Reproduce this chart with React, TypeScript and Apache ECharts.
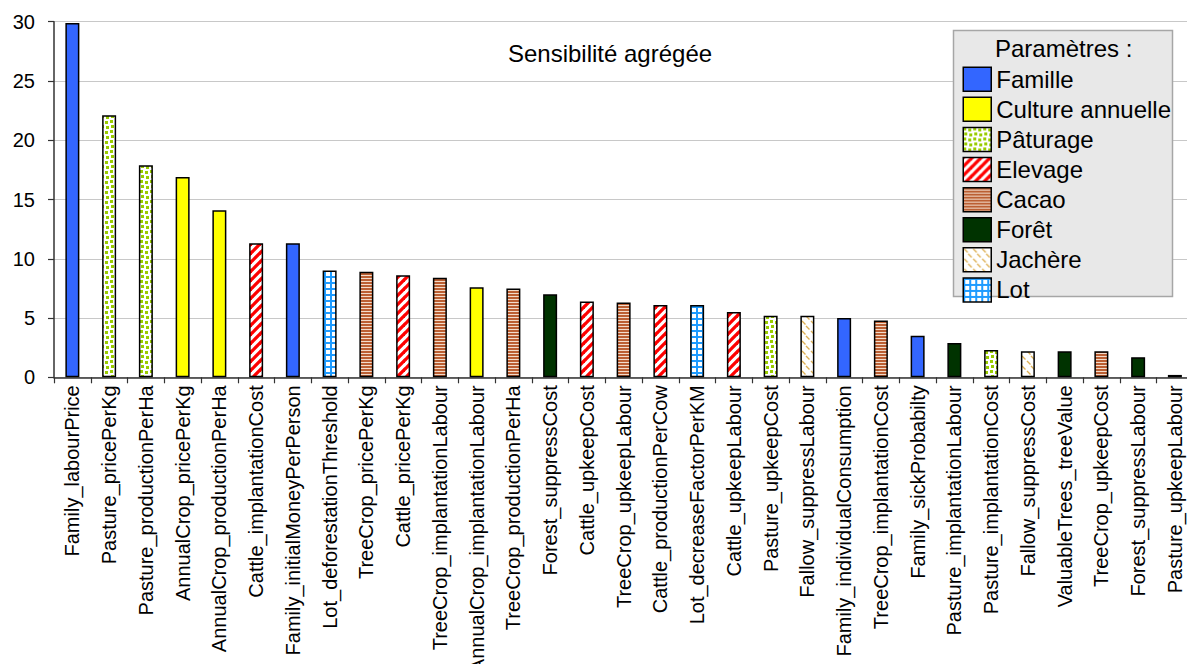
import React, { useEffect, useRef } from 'react';
import * as echarts from 'echarts';

const categories = [
  'Family_labourPrice', 'Pasture_pricePerKg', 'Pasture_productionPerHa', 'AnnualCrop_pricePerKg',
  'AnnualCrop_productionPerHa', 'Cattle_implantationCost', 'Family_initialMoneyPerPerson',
  'Lot_deforestationThreshold', 'TreeCrop_pricePerKg', 'Cattle_pricePerKg', 'TreeCrop_implantationLabour',
  'AnnualCrop_implantationLabour', 'TreeCrop_productionPerHa', 'Forest_suppressCost', 'Cattle_upkeepCost',
  'TreeCrop_upkeepLabour', 'Cattle_productionPerCow', 'Lot_decreaseFactorPerKM', 'Cattle_upkeepLabour',
  'Pasture_upkeepCost', 'Fallow_suppressLabour', 'Family_individualConsumption', 'TreeCrop_implantationCost',
  'Family_sickProbabilty', 'Pasture_implantationLabour', 'Pasture_implantationCost', 'Fallow_suppressCost',
  'ValuableTrees_treeValue', 'TreeCrop_upkeepCost', 'Forest_suppressLabour', 'Pasture_upkeepLabour',
];

const values = [
  29.9, 22.1, 17.9, 16.9, 14.1, 11.3, 11.3, 9.0, 8.9, 8.6, 8.4, 7.6, 7.5, 7.0, 6.4,
  6.3, 6.1, 6.1, 5.5, 5.2, 5.2, 5.0, 4.8, 3.5, 2.9, 2.3, 2.2, 2.2, 2.2, 1.7, 0.2,
];

const groupOf = [
  'Famille', 'Pâturage', 'Pâturage', 'Culture annuelle', 'Culture annuelle', 'Elevage', 'Famille',
  'Lot', 'Cacao', 'Elevage', 'Cacao', 'Culture annuelle', 'Cacao', 'Forêt', 'Elevage',
  'Cacao', 'Elevage', 'Lot', 'Elevage', 'Pâturage', 'Jachère', 'Famille', 'Cacao',
  'Famille', 'Forêt', 'Pâturage', 'Jachère', 'Forêt', 'Cacao', 'Forêt', 'Pâturage',
];

const groupNames = ['Famille', 'Culture annuelle', 'Pâturage', 'Elevage', 'Cacao', 'Forêt', 'Jachère', 'Lot'];

const yTicks = { min: 0, max: 30, interval: 5 };

const FONT = "'Liberation Sans', Arial, sans-serif";

function makePattern(w: number, h: number, draw: (ctx: CanvasRenderingContext2D) => void) {
  const c = document.createElement('canvas');
  c.width = w;
  c.height = h;
  const ctx = c.getContext('2d') as CanvasRenderingContext2D;
  draw(ctx);
  return { image: c, repeat: 'repeat', imageWidth: w, imageHeight: h } as any;
}

function buildFills(): Record<string, any> {
  const paturage = makePattern(10, 10, (ctx) => {
    ctx.fillStyle = '#ffffff';
    ctx.fillRect(0, 0, 10, 10);
    ctx.fillStyle = '#99cc00';
    ctx.fillRect(0, 0, 3, 3);
    ctx.fillRect(5, 1, 3, 3);
    ctx.fillRect(1, 5, 3, 3);
    ctx.fillRect(6, 6, 3, 3);
  });
  const elevage = makePattern(9, 9, (ctx) => {
    ctx.fillStyle = '#ffffff';
    ctx.fillRect(0, 0, 9, 9);
    ctx.strokeStyle = '#ff0000';
    ctx.lineWidth = 3.3;
    for (const k of [-9, 0, 9]) {
      ctx.beginPath();
      ctx.moveTo(k - 1, 10);
      ctx.lineTo(k + 10, -1);
      ctx.stroke();
    }
  });
  const cacao = makePattern(3, 3, (ctx) => {
    ctx.fillStyle = '#f3dccb';
    ctx.fillRect(0, 0, 3, 3);
    ctx.fillStyle = '#bb5f33';
    ctx.fillRect(0, 0, 3, 2);
  });
  const jachere = makePattern(9, 10, (ctx) => {
    ctx.fillStyle = '#ffffff';
    ctx.fillRect(0, 0, 9, 10);
    ctx.strokeStyle = '#deb054';
    ctx.lineWidth = 1.4;
    ctx.beginPath();
    ctx.moveTo(1, 1);
    ctx.lineTo(4.5, 4.5);
    ctx.moveTo(5, 6);
    ctx.lineTo(8.5, 9.5);
    ctx.stroke();
  });
  const lot = makePattern(6, 6, (ctx) => {
    ctx.fillStyle = '#1e9bff';
    ctx.fillRect(0, 0, 6, 6);
    ctx.fillStyle = '#ffffff';
    ctx.fillRect(2, 2, 4, 4);
  });
  return {
    'Famille': '#3366ff',
    'Culture annuelle': '#ffff00',
    'Pâturage': paturage,
    'Elevage': elevage,
    'Cacao': cacao,
    'Forêt': '#003300',
    'Jachère': jachere,
    'Lot': lot,
  };
}

export default function App() {
  const ref = useRef<HTMLDivElement>(null);

  useEffect(() => {
    if (!ref.current) return;
    const chart = echarts.init(ref.current, null, { renderer: 'svg' });
    const fills = buildFills();

    const series = groupNames.map((g) => ({
      name: g,
      type: 'bar',
      stack: 'all',
      barWidth: 14,
      itemStyle: { color: fills[g], borderColor: '#000', borderWidth: 1.5 },
      data: values.map((v, i) => (groupOf[i] === g ? v : '-')),
    }));

    const option: any = {
      animation: false,
      textStyle: { fontFamily: FONT },
      grid: {
        left: 54,
        top: 21.7,
        width: 1139.25,
        height: 355.6,
        containLabel: false,
        outerBoundsMode: 'none',
      },
      xAxis: {
        type: 'category',
        data: categories,
        boundaryGap: true,
        axisLine: { lineStyle: { color: '#333', width: 1.5 } },
        axisTick: { show: true, length: 6, alignWithLabel: false, lineStyle: { color: '#333', width: 1.2 } },
        axisLabel: {
          interval: 0,
          rotate: 90,
          fontSize: 20,
          color: '#000',
          margin: 8,
          fontFamily: FONT,
        },
        splitLine: { show: false },
      },
      yAxis: {
        type: 'value',
        min: yTicks.min,
        max: yTicks.max,
        interval: yTicks.interval,
        axisLine: { show: true, lineStyle: { color: '#333', width: 1.5 } },
        axisTick: { show: true, length: 6, lineStyle: { color: '#333', width: 1.2 } },
        axisLabel: { fontSize: 20, color: '#000', margin: 19, fontFamily: FONT },
        splitLine: { show: true, lineStyle: { color: '#c8c8c8', width: 1.2 } },
      },
      legend: {
        orient: 'vertical',
        left: 962.5,
        top: 66.5,
        padding: 0,
        itemWidth: 28,
        itemHeight: 24,
        itemGap: 4.6,
        icon: 'rect',
        selectedMode: false,
        itemStyle: { borderColor: '#000', borderWidth: 1.5 },
        textStyle: { fontSize: 24, color: '#000', fontFamily: FONT, lineHeight: 24 },
        data: groupNames,
      },
      graphic: [
        {
          type: 'rect',
          z: 3,
          shape: { x: 953.5, y: 30.5, width: 219, height: 266 },
          style: { fill: '#e8e8e8', stroke: '#a6a6a6', lineWidth: 1.5 },
        },
        {
          type: 'text',
          z: 5,
          x: 1063.7,
          y: 48,
          style: {
            text: 'Paramètres :',
            fill: '#000',
            font: `24px ${FONT}`,
            textAlign: 'center',
            textVerticalAlign: 'middle',
          },
        },
        {
          type: 'text',
          z: 5,
          x: 610,
          y: 53,
          style: {
            text: 'Sensibilité agrégée',
            fill: '#000',
            font: `24px ${FONT}`,
            textAlign: 'center',
            textVerticalAlign: 'middle',
          },
        },
      ],
      series,
    };

    chart.setOption(option);
    return () => chart.dispose();
  }, []);

  return (
    <div
      ref={ref}
      style={{ position: 'absolute', left: 0, top: 0, width: 1187, height: 664, background: '#fff' }}
    />
  );
}
